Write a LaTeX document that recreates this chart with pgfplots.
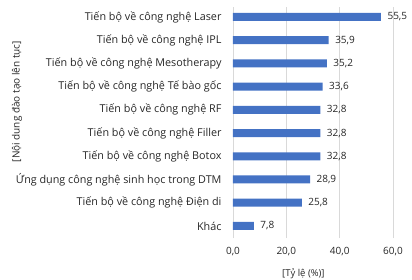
\documentclass[border=0pt]{standalone}
\usepackage{pgfplots}
\pgfplotsset{compat=1.18}
\usepackage{fontspec}
\setmainfont{Open Sans}
\definecolor{barblue}{HTML}{4472C4}
\definecolor{gridgray}{HTML}{D9D9D9}
\definecolor{txt}{HTML}{262626}
\begin{document}
\begin{tikzpicture}
\begin{axis}[
  scale only axis, width=160pt, height=231pt,
  xmin=0, xmax=60, ymin=-0.52, ymax=9.43,
  xbar, bar width=8pt,
  xtick={0,20,40,60}, ytick={0,...,9},
  yticklabels={Khác, Tiến bộ về công nghệ Điện di, Ứng dụng công nghệ sinh học trong DTM, Tiến bộ về công nghệ Botox, Tiến bộ về công nghệ Filler, Tiến bộ về công nghệ RF, Tiến bộ về công nghệ Tế bào gốc, Tiến bộ về công nghệ Mesotherapy, Tiến bộ về công nghệ IPL, Tiến bộ về công nghệ Laser},
  axis line style={draw=none}, major tick length=0pt,
  xmajorgrids, grid style={gridgray, line width=0.8pt},
  /pgf/number format/.cd, fixed, fixed zerofill, precision=1, use comma, assume math mode=true,
  /pgfplots/.cd,
  ticklabel style={font=\fontsize{10}{12}\selectfont, text=txt},
  yticklabel style={xshift=-8pt, font=\fontsize{10.8}{12}\selectfont},
  xticklabel style={yshift=-6pt},
  xlabel={[Tỷ lệ (\%)]},
  ylabel={[Nội dung đào tạo lên tục]},
  every axis x label/.style={at={(axis description cs:0.44,-0.156)}, anchor=center, font=\fontsize{9.5}{10}\selectfont, text=txt},
  every axis y label/.style={at={(axis description cs:-1.35,0.59)}, rotate=90, anchor=center, font=\fontsize{10}{12}\selectfont, text=txt},
  nodes near coords,
  every node near coord/.append style={font=\fontsize{10}{12}\selectfont, text=txt, anchor=west, xshift=3pt},
]
\addplot[fill=barblue, draw=none] coordinates {
 (7.8,0) (25.8,1) (28.9,2) (32.8,3) (32.8,4) (32.8,5) (33.6,6) (35.2,7) (35.9,8) (55.5,9)};
\end{axis}
\pgfresetboundingbox
\path[use as bounding box] (-233pt,-41pt) rectangle (179pt,238pt);
\end{tikzpicture}
\end{document}
